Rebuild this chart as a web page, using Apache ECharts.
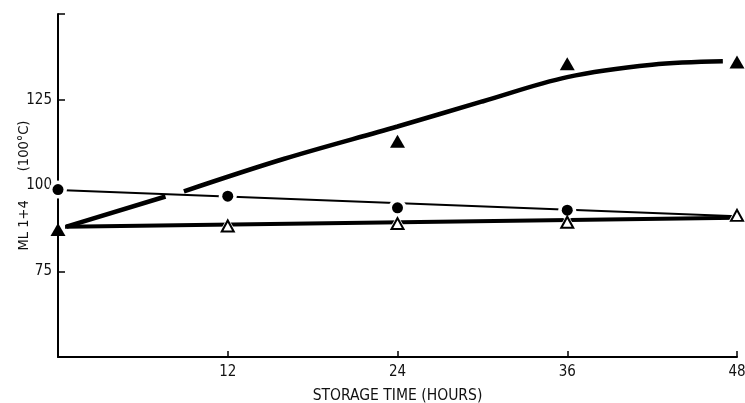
<!DOCTYPE html>
<html><head><meta charset="utf-8">
<script src="https://cdn.jsdelivr.net/npm/echarts@6/dist/echarts.min.js"></script>
<style>html,body{margin:0;padding:0;background:#fff}#c{width:745px;height:403px}</style>
</head><body><div id="c"></div>
<script>
// Data
const xTicks = [0, 12, 24, 36, 48];
const yTicks = [50, 75, 100, 125, 150];
const filledTri = [[0, 87.2], [24, 112.9], [36, 135.5], [48, 136.0]];
const filledCircle = [[0, 98.8], [12, 96.9], [24, 93.5], [36, 92.8]];
const openTri = [[12, 88.2], [24, 88.9], [36, 89.3], [48, 91.3]];
const riseFitA = [[0.6, 88.0], [7.6, 96.8]];
const riseFitB = [[8.9, 98.3], [16, 107.8], [24, 117.2], [30, 124.5], [36, 131.6], [42, 135.2], [47, 136.2]];
const circleFit = [[0, 98.7], [48, 91.0]];
const openFit = [[0.5, 88.0], [48, 90.6]];

const FONT = 'DejaVu Sans Condensed';
const chart = echarts.init(document.getElementById('c'), null, {renderer: 'canvas'});
const line = (data, w, smooth) => ({
  type: 'line', data, showSymbol: false, symbol: 'none', smooth: smooth || false,
  lineStyle: {color: '#000', width: w}, z: 2, silent: true
});
const halo = (data, symbol, size) => ({
  type: 'scatter', data, symbol, symbolSize: size,
  itemStyle: {color: '#fff', opacity: 1}, z: 3, silent: true
});
chart.setOption({
  animation: false,
  backgroundColor: '#fff',
  grid: {left: 58, right: 8, top: 14, bottom: 46, containLabel: false, outerBoundsMode: 'none'},
  xAxis: {
    type: 'value', min: 0, max: 48, interval: 12,
    name: 'STORAGE TIME (HOURS)', nameLocation: 'middle', nameGap: 31,
    nameTextStyle: {fontFamily: FONT, fontSize: 15.5, color: '#111'},
    axisLine: {lineStyle: {color: '#000', width: 2}},
    axisTick: {inside: true, length: 6, lineStyle: {color: '#000', width: 1.5}},
    axisLabel: {fontFamily: FONT, fontSize: 15, color: '#111', margin: 8,
      formatter: v => (xTicks.includes(v) && v !== 0) ? String(v) : ''},
    splitLine: {show: false}
  },
  yAxis: {
    type: 'value', min: 50, max: 150, interval: 25,
    name: 'ML 1+4       (100\u00B0C)', nameLocation: 'middle', nameGap: 26, nameRotate: 90,
    nameMoveOverlap: false,
    nameTextStyle: {fontFamily: FONT, fontSize: 14.5, color: '#111'},
    axisLine: {lineStyle: {color: '#000', width: 2}},
    axisTick: {inside: true, length: 7, lineStyle: {color: '#000', width: 1.5}},
    axisLabel: {fontFamily: FONT, fontSize: 15, color: '#111', margin: 6,
      formatter: v => (yTicks.includes(v) && v !== 50 && v !== 150) ? String(v) : ''},
    splitLine: {show: false}
  },
  series: [
    line(riseFitA, 4.5),
    line(riseFitB, 4.5, 0.35),
    line(circleFit, 2),
    line(openFit, 4),
    halo(filledCircle, 'circle', 18),
    halo(openTri, 'triangle', [20, 17]),
    {type: 'scatter', data: filledTri, symbol: 'triangle', symbolSize: [15, 13],
      itemStyle: {color: '#000', opacity: 1}, z: 4},
    {type: 'scatter', data: filledCircle, symbol: 'circle', symbolSize: 11,
      itemStyle: {color: '#000', opacity: 1}, z: 4},
    {type: 'scatter', data: openTri, symbol: 'triangle', symbolSize: [12, 11],
      itemStyle: {color: '#fff', borderColor: '#000', borderWidth: 2, opacity: 1}, z: 4}
  ]
});
</script></body></html>
